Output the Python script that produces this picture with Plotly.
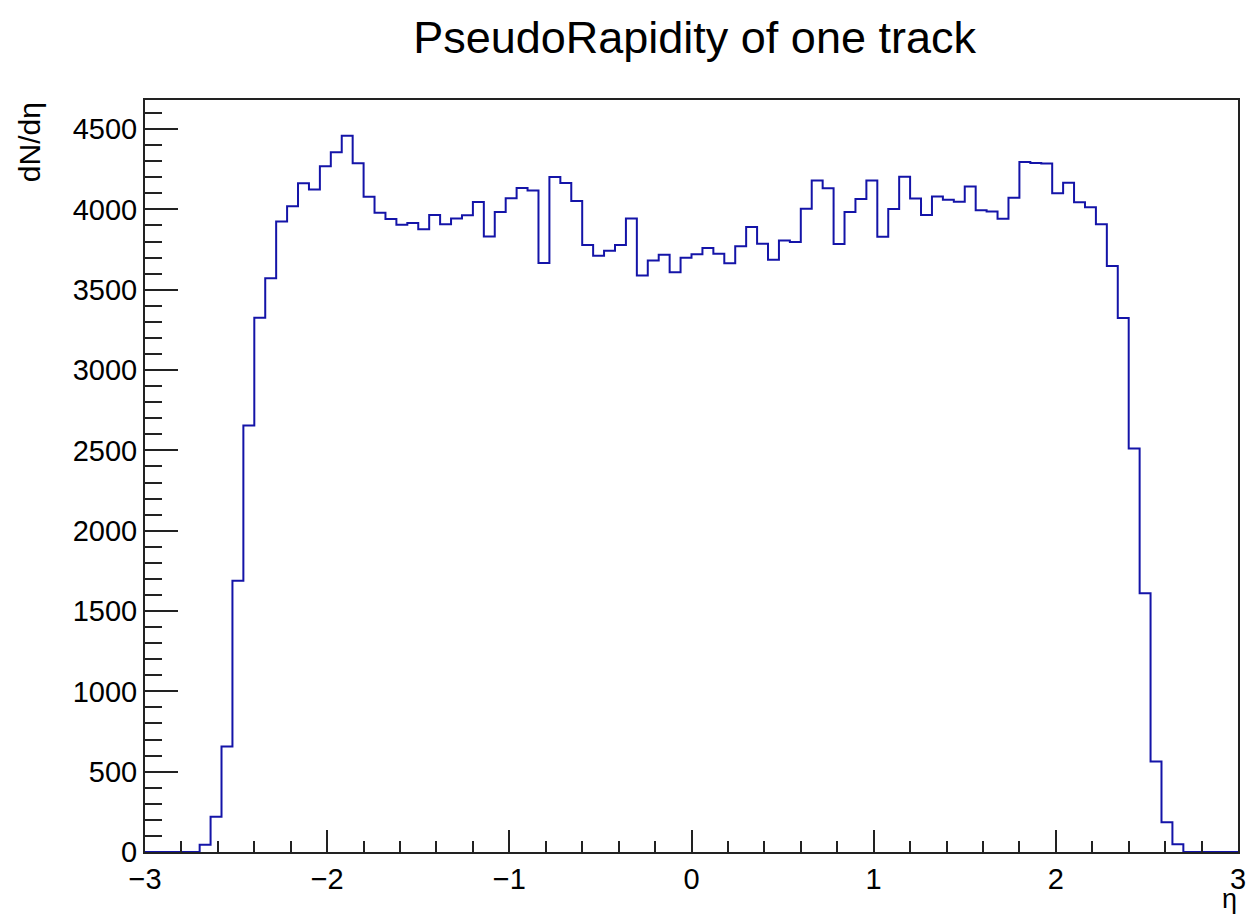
import plotly.graph_objects as go

# Histogram binning: 100 bins of width 0.06 over eta in [-3, 3]
eta_min = -3.0
eta_max = 3.0
n_bins = 100

# Bin contents (entries per bin), left to right
counts = [
    0, 0, 0, 0, 0, 45, 219, 657, 1688, 2655,
    3325, 3572, 3925, 4020, 4162, 4124, 4268, 4355, 4458, 4287,
    4079, 3979, 3940, 3905, 3915, 3876, 3965, 3908, 3944, 3963,
    4046, 3832, 3983, 4070, 4133, 4118, 3666, 4201, 4164, 4052,
    3779, 3711, 3743, 3778, 3944, 3589, 3682, 3718, 3608, 3699,
    3720, 3759, 3724, 3664, 3770, 3890, 3786, 3687, 3807, 3797,
    4004, 4180, 4131, 3784, 3983, 4064, 4180, 3830, 4002, 4203,
    4068, 3965, 4081, 4060, 4048, 4143, 3994, 3987, 3942, 4072,
    4295, 4288, 4286, 4100, 4166, 4044, 4014, 3907, 3647, 3324,
    2512, 1611, 563, 185, 48, 0, 0, 0, 0, 0,
]

title_text = "PseudoRapidity of one track"
x_title = "η"
y_title = "dN/dη"

width = (eta_max - eta_min) / n_bins
edges = [eta_min + i * width for i in range(n_bins + 1)]

# step outline: each bin drawn flat from its left edge to its right edge
xs = edges
ys = counts + [counts[-1]]

font_family = "Liberation Sans, Arial, Helvetica, sans-serif"
frame_color = "#222222"

fig = go.Figure()
fig.add_trace(go.Scatter(
    x=xs, y=ys, mode="lines", line_shape="hv",
    line=dict(color="#1414a8", width=2),
    hoverinfo="skip", showlegend=False,
))

y_top = max(counts) * 1.05

fig.update_layout(
    width=1256, height=917,
    margin=dict(l=145, r=10, t=100, b=65),
    paper_bgcolor="white", plot_bgcolor="white",
    font=dict(family=font_family, color="black", size=29),
    title=dict(text=title_text, x=0.553, xanchor="center",
               y=1 - 37 / 917, yanchor="middle", yref="container",
               font=dict(size=45, family=font_family, color="black")),
    xaxis=dict(
        range=[eta_min, eta_max], showgrid=False, zeroline=False,
        showline=True, mirror=True, linecolor=frame_color, linewidth=2,
        ticks="inside", ticklen=22, tickwidth=2, tickcolor=frame_color,
        tickmode="linear", tick0=-3, dtick=1,
        minor=dict(ticks="inside", ticklen=11, tickwidth=2, tickcolor=frame_color,
                   tickmode="linear", tick0=-3, dtick=0.2, showgrid=False),
        tickfont=dict(size=29),
    ),
    yaxis=dict(
        range=[0, y_top], showgrid=False, zeroline=False,
        showline=True, mirror=True, linecolor=frame_color, linewidth=2,
        ticks="inside", ticklen=33, tickwidth=2, tickcolor=frame_color,
        tickmode="linear", tick0=0, dtick=500,
        minor=dict(ticks="inside", ticklen=17, tickwidth=2, tickcolor=frame_color,
                   tickmode="linear", tick0=0, dtick=100, showgrid=False),
        tickfont=dict(size=29),
    ),
    annotations=[
        dict(text=y_title, textangle=-90, xref="paper", yref="paper",
             x=-0.106, y=1.0, xanchor="center", yanchor="top",
             showarrow=False, font=dict(size=30)),
        dict(text=x_title, xref="paper", yref="paper",
             x=1.0, y=-0.084, xanchor="right", yanchor="bottom",
             showarrow=False, font=dict(size=27), borderpad=0),
    ],
)

fig.write_html("out.html")
